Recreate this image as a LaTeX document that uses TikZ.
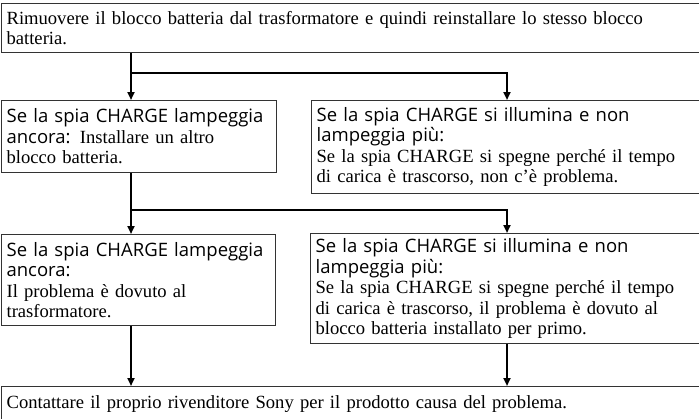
\documentclass[tikz,border=0pt]{standalone}
\usepackage{fontspec}
\setmainfont{Liberation Serif}
\newfontfamily\sansfam{Open Sans}
\newcommand\sansf{\sansfam\fontsize{18.5}{20.5}\selectfont}
\usetikzlibrary{arrows.meta}
\begin{document}
\begin{tikzpicture}[x=1pt,y=-1pt,
  box/.style={draw=black!80, line width=1.2pt, anchor=north west, inner xsep=5pt, inner ysep=0pt,
    align=left, font=\fontsize{18.6}{20.5}\selectfont},
  arr/.style={line width=2.2pt, -{Triangle[length=8pt,width=7pt]}},
  ln/.style={line width=2.2pt}]
\useasboundingbox (0,0) rectangle (699,418);
\clip (0,0) rectangle (699,418);

\node[box, text width=720pt, minimum height=49pt] (top) at (1,3)
  {Rimuovere il blocco batteria dal trasformatore e quindi reinstallare lo stesso blocco\\batteria.};

\node[box, text width=265pt, minimum height=72pt] (L1) at (1,100)
  {{\sansf Se la spia CHARGE lampeggia}\\{\sansf ancora:} Installare un altro\\blocco batteria.};

\node[box, text width=420pt, minimum height=93pt] (R1) at (311,100)
  {{\sansf Se la spia CHARGE si illumina e non}\\{\sansf lampeggia più:}\\Se la spia CHARGE si spegne perché il tempo\\di carica è trascorso, non c’è problema.};

\node[box, text width=264pt, minimum height=91pt] (L2) at (1,234)
  {{\sansf Se la spia CHARGE lampeggia}\\{\sansf ancora:}\\Il problema è dovuto al\\trasformatore.};

\node[box, text width=420pt, minimum height=110pt] (R2) at (310,233)
  {{\sansf Se la spia CHARGE si illumina e non}\\{\sansf lampeggia più:}\\Se la spia CHARGE si spegne perché il tempo\\di carica è trascorso, il problema è dovuto al\\blocco batteria installato per primo.};

\node[box, text width=720pt, minimum height=34pt] (bot) at (1,386)
  {Contattare il proprio rivenditore Sony per il prodotto causa del problema.};

\coordinate (j1) at (131,73);
\coordinate (k1) at (507,73);
\coordinate (j2) at (131,210);
\coordinate (k2) at (507,210);

\draw[arr] (top.south -| j1) -- (L1.north -| j1);
\draw[arr] (j1) -- (k1) -- (R1.north -| k1);
\draw[arr] (L1.south -| j2) -- (L2.north -| j2);
\draw[arr] (j2) -- (k2) -- (R2.north -| k2);
\draw[arr] (L2.south -| j2) -- (bot.north -| j2);
\draw[arr] (R2.south -| k2) -- (bot.north -| k2);
\end{tikzpicture}
\end{document}
